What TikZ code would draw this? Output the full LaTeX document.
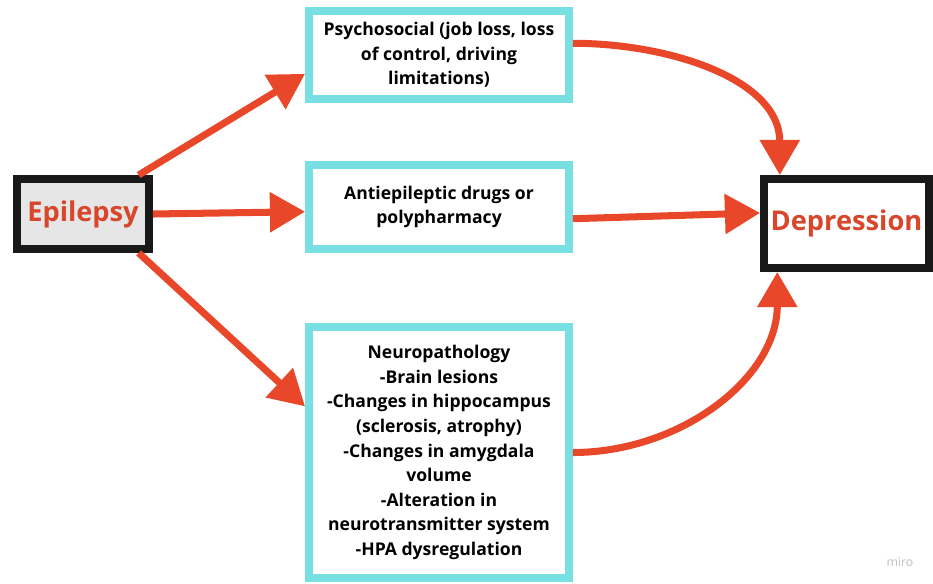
\documentclass[tikz,border=0pt]{standalone}
\usepackage{fontspec}
\setmainfont{Open Sans}
\usepackage{xcolor}
\usetikzlibrary{arrows.meta}
\definecolor{boxcyan}{HTML}{78DFE3}
\definecolor{arrowred}{HTML}{E8472A}
\definecolor{labelred}{HTML}{D8472B}
\definecolor{fillgray}{HTML}{E6E6E6}
\begin{document}
\begin{tikzpicture}[x=0.02cm,y=-0.02cm,
  cause node/.style={rectangle,draw=boxcyan,line width=4.5pt,fill=white,inner sep=2pt,align=center,minimum width=5.2cm,font=\bfseries\fontsize{10}{14}\selectfont},
  end node/.style={rectangle,draw=black!90,line width=4.5pt,inner sep=2pt,text=labelred,font=\bfseries\fontsize{15.5}{18}\selectfont},
  link/.style={draw=arrowred,line width=4pt,-{Triangle[length=20pt,width=22pt]}}]
        \useasboundingbox (0,0) rectangle (933,583);
        \node[end node,fill=fillgray,minimum width=2.64cm,minimum height=1.4cm] (epi) at (83,214) {Epilepsy};
        \node[end node,fill=white,minimum width=3.3cm,minimum height=1.78cm] (dep) at (846.5,223.5) {Depression};
        \node[cause node,minimum height=1.76cm] (psy) at (439,55) {Psychosocial (job loss, loss\\of control, driving\\limitations)};
        \node[cause node,minimum height=1.68cm] (anti) at (439,207) {Antiepileptic drugs or\\polypharmacy};
        \node[cause node,minimum height=5.02cm] (neu) at (439,452.5) {Neuropathology\\-Brain lesions\\-Changes in hippocampus\\(sclerosis, atrophy)\\-Changes in amygdala\\volume\\-Alteration in\\neurotransmitter system\\-HPA dysregulation};
        \node[text=black!25,font=\fontsize{7}{8}\selectfont] (miro) at (900,562) {miro};
        \path
          (epi.35) edge[link] (psy.188)
          (epi.east) edge[link] (anti.182)
          (epi.-35) edge[link] (neu.161)
          (psy.5) edge[link,out=0,in=90] (dep.144)
          (anti.-5) edge[link] (dep.173)
          (neu.east) edge[link,out=0,in=-90] (dep.215);
      \end{tikzpicture}
\end{document}
